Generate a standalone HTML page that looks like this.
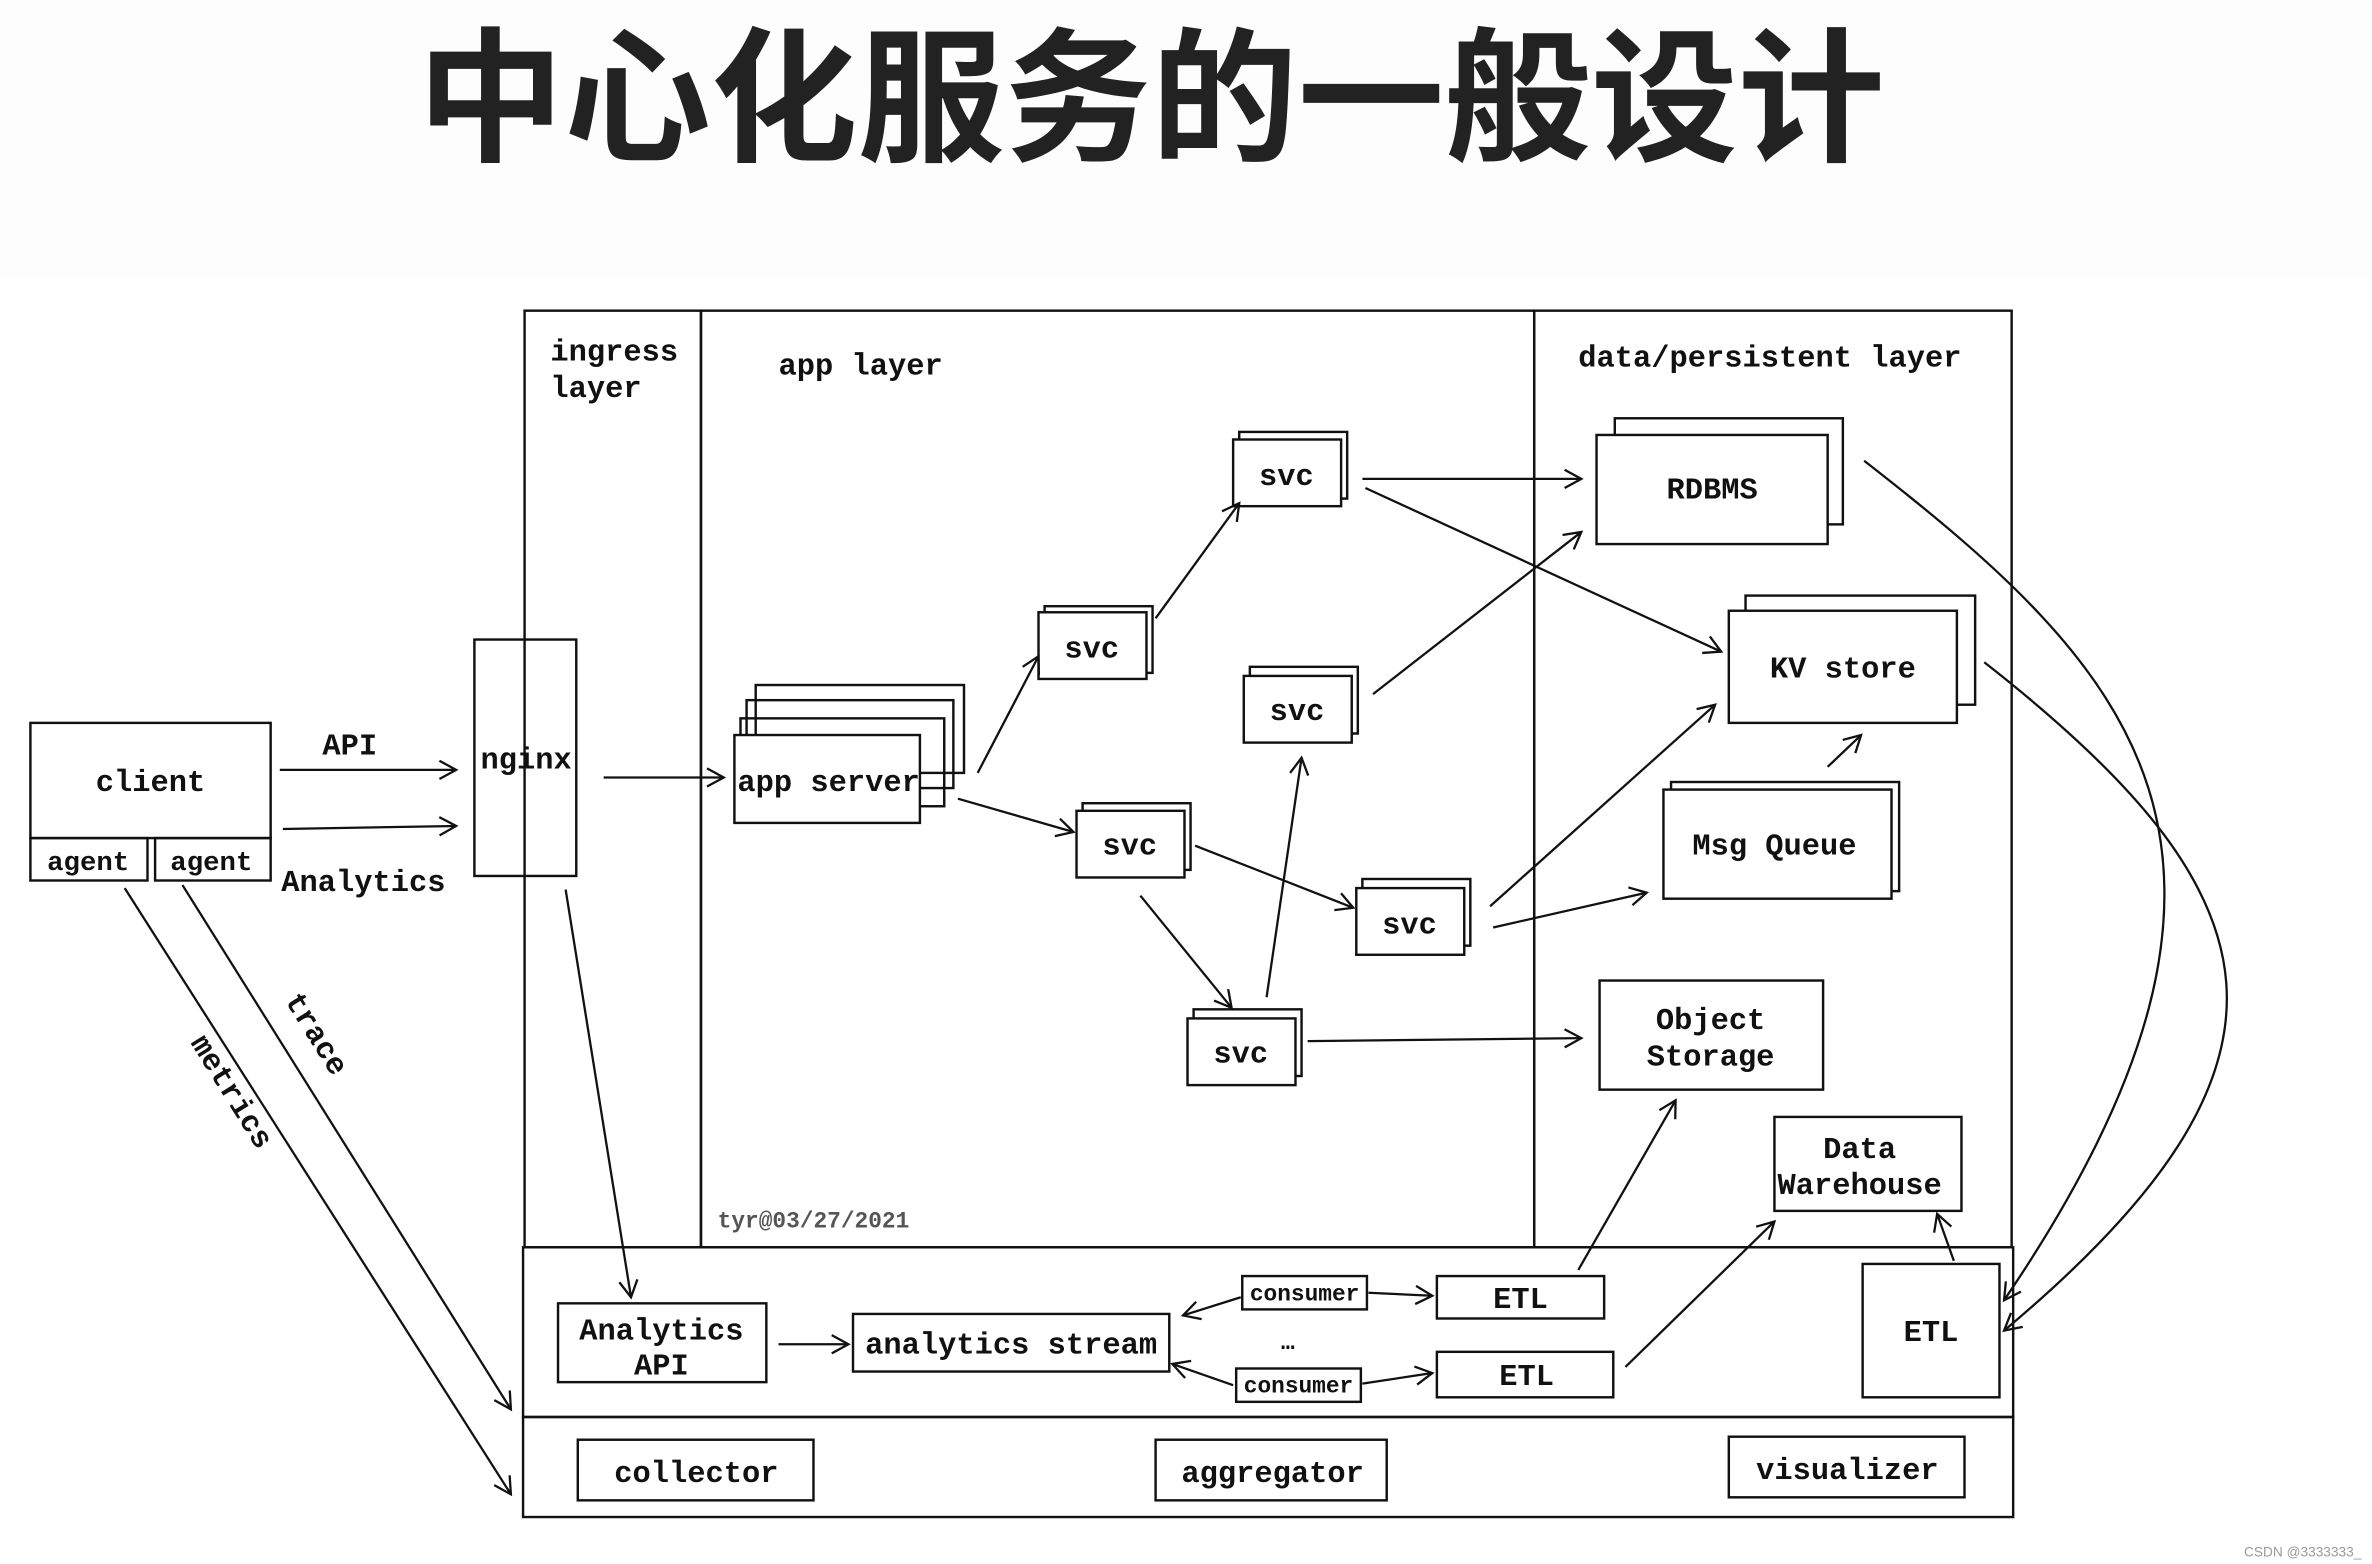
<!DOCTYPE html>
<html><head><meta charset="utf-8"><style>
html,body{margin:0;padding:0;background:#fff;}
svg{display:block}
text{font-family:"Liberation Mono","DejaVu Sans Mono",monospace;font-weight:bold;fill:#111;}
.t{font-family:"Liberation Sans","Noto Sans CJK SC",sans-serif;font-weight:700;}
</style></head><body>
<svg width="2372" height="1564" viewBox="0 0 1560 1032" preserveAspectRatio="none" xmlns="http://www.w3.org/2000/svg">
<defs>
<marker id="a" markerWidth="14" markerHeight="14" refX="12" refY="7" orient="auto" markerUnits="userSpaceOnUse">
<path d="M1,1 L12,7 L1,13" fill="none" stroke="#111" stroke-width="1.5"/>
</marker>
</defs>
<rect x="0" y="0" width="1560" height="184" fill="#fdfdfe"/>
<text class="t" x="757" y="99" font-size="96" text-anchor="middle" style="fill:#222" textLength="965" lengthAdjust="spacingAndGlyphs">中心化服务的一般设计</text>

<g fill="none" stroke="#111" stroke-width="1.6">
<rect x="345" y="205" width="116" height="618"/>
<rect x="461" y="205" width="548" height="618"/>
<rect x="1009" y="205" width="314" height="618"/>
<rect x="344" y="823" width="980" height="112"/>
<rect x="344" y="935" width="980" height="66"/>

<rect x="20" y="477" width="158" height="76"/>
<rect x="20" y="553" width="77" height="28"/>
<rect x="102" y="553" width="76" height="28"/>
<rect x="312" y="422" width="67" height="156"/>
<rect x="497" y="452" width="137" height="58"/>
<rect x="491" y="462" width="136" height="58"/>
<rect x="487" y="474" width="134" height="58"/>
<rect x="483" y="485" width="122" height="58" fill="#fff"/>
<rect x="815" y="285" width="71" height="44"/><rect x="811" y="290" width="71" height="44" fill="#fff"/>
<rect x="687" y="400" width="71" height="44"/><rect x="683" y="404" width="71" height="44" fill="#fff"/>
<rect x="822" y="440" width="71" height="44"/><rect x="818" y="446" width="71" height="44" fill="#fff"/>
<rect x="712" y="530" width="71" height="44"/><rect x="708" y="535" width="71" height="44" fill="#fff"/>
<rect x="896" y="580" width="71" height="44"/><rect x="892" y="586" width="71" height="44" fill="#fff"/>
<rect x="785" y="666" width="71" height="44"/><rect x="781" y="672" width="71" height="44" fill="#fff"/>
<rect x="1062" y="276" width="150" height="70"/><rect x="1050" y="287" width="152" height="72" fill="#fff"/>
<rect x="1148" y="393" width="151" height="72"/><rect x="1137" y="403" width="150" height="74" fill="#fff"/>
<rect x="1099" y="516" width="150" height="72"/><rect x="1094" y="521" width="150" height="72" fill="#fff"/>
<rect x="1052" y="647" width="147" height="72"/>
<rect x="1167" y="737" width="123" height="62"/>
<rect x="367" y="860" width="137" height="52"/>
<rect x="561" y="867" width="208" height="38"/>
<rect x="817" y="842" width="82" height="22"/>
<rect x="813" y="903" width="82" height="22"/>
<rect x="945" y="842" width="110" height="28"/>
<rect x="945" y="892" width="116" height="30"/>
<rect x="1225" y="834" width="90" height="88"/>
<rect x="380" y="950" width="155" height="40"/>
<rect x="760" y="950" width="152" height="40"/>
<rect x="1137" y="948" width="155" height="40"/>
</g>

<g fill="none" stroke="#111" stroke-width="1.5" marker-end="url(#a)">
<line x1="184" y1="508" x2="300" y2="508"/>
<line x1="186" y1="547" x2="300" y2="545"/>
<line x1="397" y1="513" x2="476" y2="513"/>
<line x1="643" y1="510" x2="683" y2="433"/>
<line x1="630" y1="527" x2="706" y2="549"/>
<line x1="760" y1="408" x2="815" y2="332"/>
<line x1="786" y1="558" x2="890" y2="599"/>
<line x1="750" y1="591" x2="810" y2="665"/>
<line x1="833" y1="658" x2="856" y2="500"/>
<line x1="896" y1="316" x2="1040" y2="316"/>
<line x1="898" y1="322" x2="1132" y2="430"/>
<line x1="903" y1="458" x2="1040" y2="351"/>
<line x1="980" y1="598" x2="1128" y2="465"/>
<line x1="982" y1="612" x2="1083" y2="589"/>
<line x1="1202" y1="506" x2="1224" y2="485"/>
<line x1="860" y1="687" x2="1040" y2="685"/>
<line x1="372" y1="587" x2="415" y2="856"/>
<line x1="512" y1="887" x2="558" y2="887"/>
<line x1="816" y1="856" x2="778" y2="868"/>
<line x1="811" y1="914" x2="771" y2="900"/>
<line x1="900" y1="853" x2="942" y2="855"/>
<line x1="896" y1="913" x2="942" y2="906"/>
<line x1="1038" y1="838" x2="1102" y2="726"/>
<line x1="1069" y1="902" x2="1167" y2="806"/>
<line x1="1285" y1="832" x2="1274" y2="801"/>
<line x1="120" y1="584" x2="336" y2="930"/>
<line x1="82" y1="586" x2="336" y2="986"/>
<path d="M1226,304 C1400,440 1520,560 1318,858"/>
<path d="M1305,437 C1500,590 1530,700 1318,878"/>
</g>

<g font-size="20">
<text x="362" y="238">ingress</text>
<text x="362" y="262">layer</text>
<text x="512" y="247">app layer</text>
<text x="1038" y="242">data/persistent layer</text>
<text x="99" y="522" text-anchor="middle">client</text>
<text x="58" y="574" text-anchor="middle" font-size="18">agent</text>
<text x="139" y="574" text-anchor="middle" font-size="18">agent</text>
<text x="230" y="498" text-anchor="middle">API</text>
<text x="185" y="588">Analytics</text>
<text x="346" y="507" text-anchor="middle">nginx</text>
<text x="545" y="522" text-anchor="middle">app server</text>
<text x="846" y="320" text-anchor="middle">svc</text>
<text x="718" y="434" text-anchor="middle">svc</text>
<text x="853" y="475" text-anchor="middle">svc</text>
<text x="743" y="564" text-anchor="middle">svc</text>
<text x="927" y="616" text-anchor="middle">svc</text>
<text x="816" y="701" text-anchor="middle">svc</text>
<text x="1126" y="329" text-anchor="middle">RDBMS</text>
<text x="1212" y="447" text-anchor="middle">KV store</text>
<text x="1167" y="564" text-anchor="middle">Msg Queue</text>
<text x="1125" y="679" text-anchor="middle">Object</text>
<text x="1125" y="703" text-anchor="middle">Storage</text>
<text x="1223" y="764" text-anchor="middle">Data</text>
<text x="1223" y="788" text-anchor="middle">Warehouse</text>
<text x="435" y="884" text-anchor="middle">Analytics</text>
<text x="435" y="907" text-anchor="middle">API</text>
<text x="665" y="893" text-anchor="middle">analytics stream</text>
<text x="858" y="858" text-anchor="middle" font-size="15">consumer</text>
<text x="854" y="919" text-anchor="middle" font-size="15">consumer</text>
<text x="847" y="890" text-anchor="middle" font-size="15">…</text>
<text x="1000" y="863" text-anchor="middle">ETL</text>
<text x="1004" y="914" text-anchor="middle">ETL</text>
<text x="1270" y="885" text-anchor="middle">ETL</text>
<text x="458" y="978" text-anchor="middle">collector</text>
<text x="837" y="978" text-anchor="middle">aggregator</text>
<text x="1215" y="976" text-anchor="middle">visualizer</text>
<text x="535" y="810" text-anchor="middle" font-size="15" style="fill:#555">tyr@03/27/2021</text>
<text transform="translate(187,660) rotate(58)">trace</text>
<text transform="translate(125,688) rotate(58)">metrics</text>
</g>
<text x="1553" y="1027" text-anchor="end" font-size="9" style="font-family:'Liberation Sans',sans-serif;font-weight:normal;fill:#999">CSDN @3333333_</text>
</svg>
</body></html>
